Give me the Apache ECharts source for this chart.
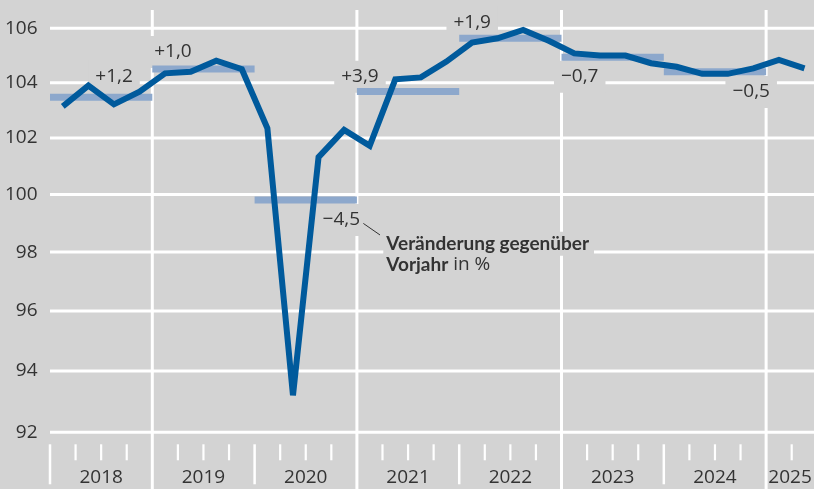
<!DOCTYPE html>
<html><head><meta charset="utf-8">
<script src="https://cdn.jsdelivr.net/npm/echarts@6/dist/echarts.min.js"></script>
<style>html,body{margin:0;padding:0;background:#d3d3d3}#c{width:814px;height:489px}</style>
</head><body><div id="c"></div>
<script>
// ---------- data ----------
const years = [2018, 2019, 2020, 2021, 2022, 2023, 2024, 2025];
// quarterly index values, 2018 Q1 ... 2025 Q2
const quarterlyIndex = [
  103.14, 103.89, 103.21, 103.67,
  104.34, 104.40, 104.80, 104.49,
  102.35, 93.20, 101.32, 102.29,
  101.72, 104.12, 104.19, 104.77,
  105.47, 105.63, 105.94, 105.54,
  105.07, 104.99, 104.99, 104.71,
  104.58, 104.32, 104.32, 104.52,
  104.83, 104.52
];
// annual averages 2018 ... 2024
const annualAverage = [103.47, 104.50, 99.81, 103.68, 105.63, 104.93, 104.40];
// change vs previous year in %, 2018 ... 2024
const annualChange = ['+1,2', '+1,0', '\u22124,5', '+3,9', '+1,9', '\u22120,7', '\u22120,5'];
const yTicks = [92, 94, 96, 98, 100, 102, 104, 106];
const noteBold1 = 'Veränderung gegenüber';
const noteBold2 = 'Vorjahr';
const noteRest2 = ' in %';

// ---------- layout ----------
const FONT = '"Open Sans", "DejaVu Sans", sans-serif';
const NOTE_FONT = 'Lato, "Open Sans", sans-serif';
const TEXT = '#333333';
const BG = '#d3d3d3';
const LINE = '#005a9c';
const BAR = '#8da8cc';
const X_MIN = 2018, X_MAX = 2025.468;
const PX_PER_LN = 2852;
const Y_MAX = Math.log(106) + 18.3 / PX_PER_LN;
const Y_MIN = Y_MAX - 479 / PX_PER_LN;
const L = Math.log;
// anchor (centre) of each change label, in data space [x, index]
const changeLabelPos = [
  [2018.626, 104.22], [2019.202, 105.12], [2020.848, 99.11], [2021.030, 104.21],
  [2022.127, 106.23], [2023.178, 104.21], [2024.854, 103.66]
];
const notePos = [2021.258, 98.29, 97.56];
const leader = [[2021.063, 98.99], [2021.226, 98.59]];

const chart = echarts.init(document.getElementById('c'), null, {renderer: 'canvas'});

const option = {
  backgroundColor: BG,
  animation: false,
  grid: {left: 50, right: 0, top: 10, bottom: 0},
  xAxis: {type: 'value', min: X_MIN, max: X_MAX, show: false},
  yAxis: {type: 'value', min: Y_MIN, max: Y_MAX, show: false},
  series: [
    { // horizontal grid + y labels
      type: 'custom', z: 1, silent: true, clip: false,
      data: yTicks.map(v => [X_MIN, L(v)]),
      renderItem(params, api) {
        const cs = params.coordSys;
        const y = api.coord([X_MIN, api.value(1)])[1];
        return {type: 'group', children: [
          {type: 'line', shape: {x1: cs.x, y1: y, x2: cs.x + cs.width, y2: y},
           style: {stroke: '#ffffff', lineWidth: 3}},
          {type: 'text', style: {text: String(yTicks[params.dataIndex]), x: cs.x - 12.5, y: y,
           align: 'right', verticalAlign: 'middle', fill: TEXT, fontSize: 19, fontFamily: FONT}}
        ]};
      }
    },
    { // x axis: year lines, ticks, labels
      type: 'custom', z: 1, silent: true, clip: false,
      data: years.map(y => [y, L(92)]),
      renderItem(params, api) {
        const cs = params.coordSys;
        const yr = api.value(0);
        const p = api.coord([yr, L(92)]);
        const base = p[1], x = p[0];
        const ch = [];
        if (yr % 2 === 1) {
          ch.push({type: 'line', shape: {x1: x, y1: cs.y, x2: x, y2: cs.y + cs.height},
                   style: {stroke: '#ffffff', lineWidth: 3}});
        } else {
          ch.push({type: 'line', shape: {x1: x, y1: base + 12, x2: x, y2: base + 52},
                   style: {stroke: '#ffffff', lineWidth: 2.5}});
        }
        for (let q = 1; q < 4; q++) {
          const qx = yr + q / 4;
          if (qx < X_MAX) {
            const px = api.coord([qx, L(92)])[0];
            ch.push({type: 'line', shape: {x1: px, y1: base + 12, x2: px, y2: base + 28},
                     style: {stroke: '#ffffff', lineWidth: 2.2}});
          }
        }
        const end = Math.min(yr + 1, X_MAX);
        const cx = api.coord([(yr + end) / 2, L(92)])[0];
        ch.push({type: 'text', style: {text: String(yr), x: cx, y: base + 45.5, align: 'center',
                 verticalAlign: 'middle', fill: TEXT, fontSize: 19, fontFamily: FONT}});
        return {type: 'group', children: ch};
      }
    },
    { // change labels
      type: 'custom', z: 2, silent: true, clip: false,
      data: changeLabelPos.map(p => [p[0], L(p[1])]),
      renderItem(params, api) {
        const p = api.coord([api.value(0), api.value(1)]);
        return {type: 'text', style: {text: annualChange[params.dataIndex], x: p[0], y: p[1],
          align: 'center', verticalAlign: 'middle', fill: TEXT, fontSize: 19, fontFamily: FONT,
          backgroundColor: BG, padding: [7, 7, 6, 7]}};
      }
    },
    { // note + leader line
      type: 'custom', z: 2, silent: true, clip: false,
      data: [[notePos[0], L(notePos[1])]],
      renderItem(params, api) {
        const a = api.coord([leader[0][0], L(leader[0][1])]);
        const b = api.coord([leader[1][0], L(leader[1][1])]);
        const t1 = api.coord([notePos[0], L(notePos[1])]);
        const t2 = api.coord([notePos[0], L(notePos[2])]);
        return {type: 'group', children: [
          {type: 'line', shape: {x1: a[0], y1: a[1], x2: b[0], y2: b[1]}, style: {stroke: TEXT, lineWidth: 1}},
          {type: 'text', style: {text: noteBold1, x: t1[0], y: t1[1], align: 'left', verticalAlign: 'middle',
            fill: TEXT, fontSize: 19, fontWeight: 'bold', fontFamily: NOTE_FONT, backgroundColor: BG, padding: [3, 5, 2, 3]}},
          {type: 'text', style: {text: '{b|' + noteBold2 + '}{r|' + noteRest2 + '}', x: t2[0], y: t2[1], align: 'left',
            verticalAlign: 'middle', fill: TEXT, fontSize: 19, fontFamily: NOTE_FONT, backgroundColor: BG, padding: [2, 5, 2, 3],
            rich: {b: {fontWeight: 'bold', fontSize: 19, fontFamily: NOTE_FONT, fill: TEXT},
                   r: {fontWeight: 'normal', fontSize: 19, fontFamily: FONT, fill: TEXT}}}}
        ]};
      }
    },
    { // annual average bars
      type: 'custom', z: 3, silent: true, clip: false,
      data: annualAverage.map((v, i) => [years[i], L(v)]),
      renderItem(params, api) {
        const p0 = api.coord([api.value(0), api.value(1)]);
        const p1 = api.coord([api.value(0) + 1, api.value(1)]);
        return {type: 'rect', shape: {x: p0[0], y: p0[1] - 3.5, width: p1[0] - p0[0], height: 7},
                style: {fill: BAR}};
      }
    },
    { // quarterly index line
      type: 'line', z: 5, silent: true, showSymbol: false, symbol: 'none',
      data: quarterlyIndex.map((v, i) => [years[0] + (i + 0.5) / 4, L(v)]),
      lineStyle: {color: LINE, width: 6, join: 'miter', miterLimit: 3, cap: 'butt'}
    }
  ]
};
chart.setOption(option);
</script>
</body></html>
